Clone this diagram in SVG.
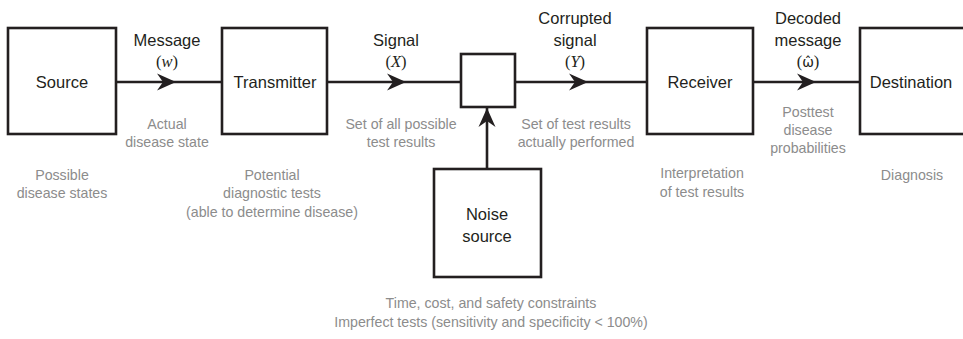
<svg xmlns="http://www.w3.org/2000/svg" width="963" height="339" viewBox="0 0 963 339">
  <style>
    .box { fill: #fff; stroke: #231f20; stroke-width: 2.6; }
    .wire { fill: none; stroke: #231f20; stroke-width: 2.6; }
    .head { fill: #231f20; }
    .lbl { font-family: "Liberation Sans", Arial, sans-serif; font-size: 16.5px; fill: #231f20; text-anchor: middle; }
    .math { font-family: "Liberation Serif", "Times New Roman", serif; font-size: 16.5px; fill: #231f20; text-anchor: middle; }
    .math .v { font-style: italic; }
    .math .g { font-family: "DejaVu Sans", sans-serif; font-size: 14px; }
    .note { font-family: "Liberation Sans", Arial, sans-serif; font-size: 14.2px; fill: #8c8c8c; text-anchor: middle; }
  </style>
  <defs>
    <!-- barbed arrowhead, tip at the origin, pointing along +x -->
    <path id="arrowhead" class="head" d="M0,0 L-19,-8.5 L-13,0 L-19,8.5 Z"/>
  </defs>

  <rect width="963" height="339" fill="#fff"/>

  <g id="connectors">
    <line class="wire" x1="116" y1="82" x2="222" y2="82"/>
    <use href="#arrowhead" transform="translate(176,82)"/>
    <line class="wire" x1="327" y1="82" x2="461" y2="82"/>
    <use href="#arrowhead" transform="translate(406,82)"/>
    <line class="wire" x1="515" y1="82" x2="647" y2="82"/>
    <use href="#arrowhead" transform="translate(588,82)"/>
    <line class="wire" x1="753" y1="82" x2="860" y2="82"/>
    <use href="#arrowhead" transform="translate(816,82)"/>
    <line class="wire" x1="487" y1="169" x2="487" y2="108"/>
    <use href="#arrowhead" transform="translate(487,108) rotate(-90)"/>
  </g>

  <g id="source">
    <rect class="box" x="8" y="28" width="108" height="106"/>
    <text class="lbl" x="62" y="88">Source</text>
  </g>
  <g id="transmitter">
    <rect class="box" x="222" y="28" width="105" height="106"/>
    <text class="lbl" x="275" y="88">Transmitter</text>
  </g>
  <g id="channel">
    <rect class="box" x="461" y="54" width="54" height="53"/>
  </g>
  <g id="receiver">
    <rect class="box" x="647" y="28" width="106" height="106"/>
    <text class="lbl" x="700" y="88">Receiver</text>
  </g>
  <g id="destination">
    <rect class="box" x="860" y="28" width="112" height="106"/>
    <text class="lbl" x="911" y="88">Destination</text>
  </g>
  <g id="noise-source">
    <rect class="box" x="434" y="169" width="107" height="108"/>
    <text class="lbl" x="487" y="220">Noise</text>
    <text class="lbl" x="487" y="242">source</text>
  </g>

  <g id="connector-labels">
    <text class="lbl" x="167" y="46">Message</text>
    <text class="math" x="167" y="67">(<tspan class="v">w</tspan>)</text>
    <text class="lbl" x="396" y="46">Signal</text>
    <text class="math" x="396" y="67">(<tspan class="v">X</tspan>)</text>
    <text class="lbl" x="575" y="24">Corrupted</text>
    <text class="lbl" x="575" y="46">signal</text>
    <text class="math" x="575" y="67">(<tspan class="v">Y</tspan>)</text>
    <text class="lbl" x="808" y="24">Decoded</text>
    <text class="lbl" x="808" y="46">message</text>
    <text class="math" x="808" y="67">(<tspan class="g">ω̂</tspan>)</text>
  </g>

  <g id="notes">
    <text class="note" x="167" y="129">Actual</text>
    <text class="note" x="167" y="147">disease state</text>
    <text class="note" x="62" y="180">Possible</text>
    <text class="note" x="62" y="198">disease states</text>
    <text class="note" x="272" y="180">Potential</text>
    <text class="note" x="272" y="198">diagnostic tests</text>
    <text class="note" x="272" y="217">(able to determine disease)</text>
    <text class="note" x="401" y="129">Set of all possible</text>
    <text class="note" x="401" y="147">test results</text>
    <text class="note" x="576" y="129">Set of test results</text>
    <text class="note" x="576" y="147">actually performed</text>
    <text class="note" x="702" y="178">Interpretation</text>
    <text class="note" x="702" y="197">of test results</text>
    <text class="note" x="808" y="117">Posttest</text>
    <text class="note" x="808" y="135">disease</text>
    <text class="note" x="808" y="153">probabilities</text>
    <text class="note" x="912" y="180">Diagnosis</text>
    <text class="note" x="491" y="308">Time, cost, and safety constraints</text>
    <text class="note" x="491" y="327">Imperfect tests (sensitivity and specificity &lt; 100%)</text>
  </g>
</svg>
